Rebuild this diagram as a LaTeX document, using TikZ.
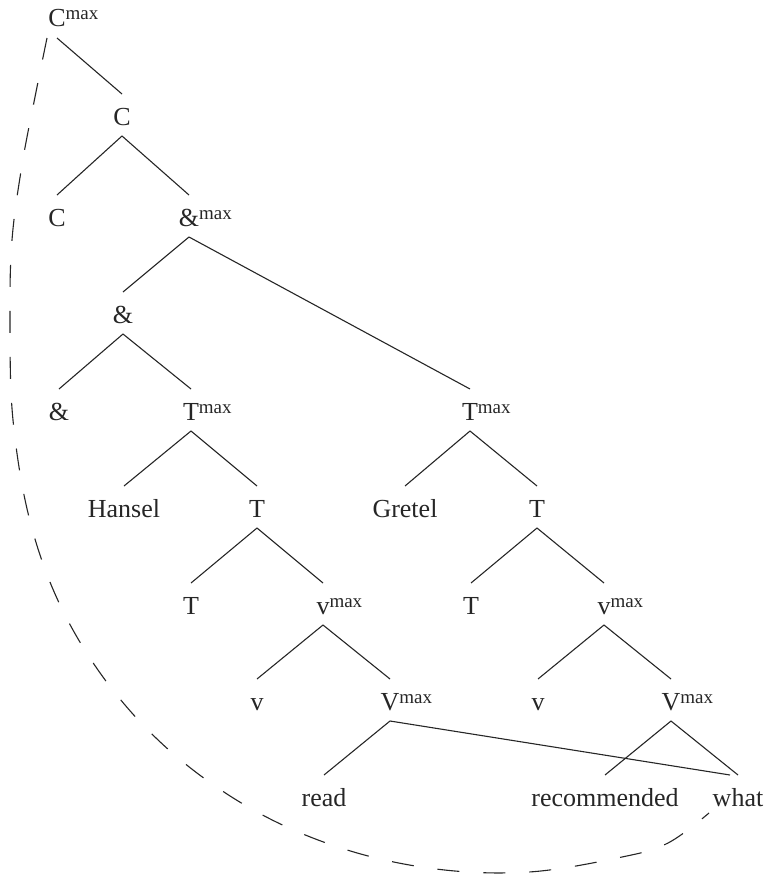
\documentclass[tikz,border=0pt]{standalone}
\usepackage{fontspec}
\setmainfont{Liberation Serif}
\newcommand\mxsup{\rlap{\raisebox{7pt}{\fontsize{19}{19}\selectfont max}}}
\begin{document}
\begin{tikzpicture}[x=1pt,y=-1pt,
  lbl/.style={anchor=base,inner sep=0pt,font=\fontsize{26}{30}\selectfont,text=black!85},
  br/.style={line width=1.1pt,black!85},
  mv/.style={line width=1.1pt,black!85,dash pattern=on 22pt off 24pt}]
\path[use as bounding box] (0,0) rectangle (768,875);
% level 0
\node[lbl] (cmax) at (57,27) {C\mxsup};
% level 1
\node[lbl] (c1) at (122,125) {C};
% level 2
\node[lbl] (c2) at (57,226) {C};
\node[lbl] (amax) at (189,226) {\&\mxsup};
% level 3
\node[lbl] (a1) at (123,323) {\&};
% level 4
\node[lbl] (a2) at (59,420) {\&};
\node[lbl] (tmaxL) at (191,420) {T\mxsup};
\node[lbl] (tmaxR) at (470,420) {T\mxsup};
% level 5
\node[lbl] (hansel) at (124,517) {Hansel};
\node[lbl] (tL) at (257,517) {T};
\node[lbl] (gretel) at (405,517) {Gretel};
\node[lbl] (tR) at (537,517) {T};
% level 6
\node[lbl] (tL2) at (191,614) {T};
\node[lbl] (vmaxL) at (323,614) {v\mxsup};
\node[lbl] (tR2) at (471,614) {T};
\node[lbl] (vmaxR) at (604,614) {v\mxsup};
% level 7
\node[lbl] (vL) at (257,710) {v};
\node[lbl] (VmaxL) at (390,710) {V\mxsup};
\node[lbl] (vR) at (538,710) {v};
\node[lbl] (VmaxR) at (671,710) {V\mxsup};
% level 8
\node[lbl] (read) at (324,806) {read};
\node[lbl] (recom) at (605,806) {recommended};
\node[lbl] (what) at (738,806) {what};
% branches
\foreach \p/\c in {cmax/c1, c1/c2, c1/amax, amax/a1, amax/tmaxR, a1/a2, a1/tmaxL,
  tmaxL/hansel, tmaxL/tL, tmaxR/gretel, tmaxR/tR, tL/tL2, tL/vmaxL, tR/tR2, tR/vmaxR,
  vmaxL/vL, vmaxL/VmaxL, vmaxR/vR, vmaxR/VmaxR, VmaxL/read, VmaxR/recom, VmaxR/what}
  \draw[br] ([yshift=-11pt]\p.base) -- ([yshift=31pt]\c.base);
\draw[br] ([yshift=-11pt]VmaxL.base) -- ([xshift=-8pt,yshift=31pt]what.base);
% movement path
\coordinate (ds) at ([xshift=-10pt,yshift=-11pt]cmax.base);
\coordinate (de) at ([xshift=-29pt,yshift=-7pt]what.base);
\draw[mv] plot[smooth,tension=0.6] coordinates {(ds) (35,97) (22,165) (12,240) (10,320) (13,420) (30,521) (62,609) (112,689) (177,757) (257,812) (344,849) (436,869) (529,872) (622,857) (668,843) (de)};
\end{tikzpicture}
\end{document}
